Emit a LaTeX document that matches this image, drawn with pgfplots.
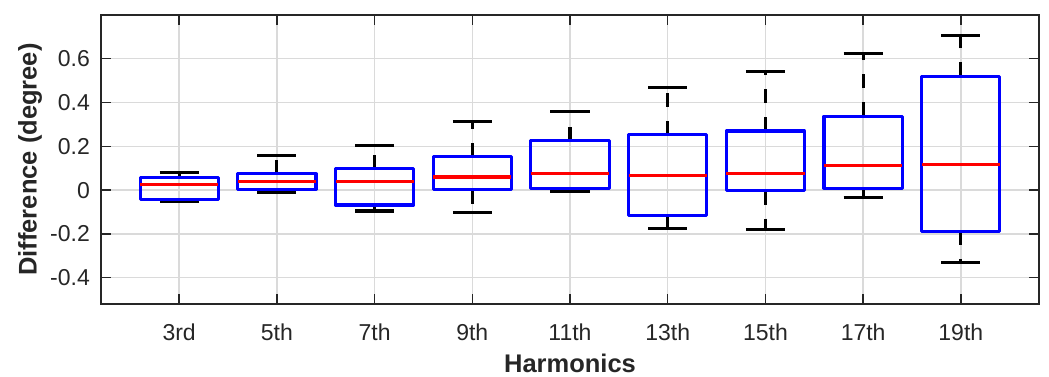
\documentclass[border=0pt]{standalone}
\usepackage{pgfplots}
\pgfplotsset{compat=1.18}
\usepackage{fontspec}
\setmainfont{Liberation Sans}
\definecolor{axgray}{RGB}{38,38,38}
\definecolor{gridgray}{RGB}{218,218,218}
% #1 position, #2 lower whisker, #3 lower quartile, #4 median, #5 upper quartile, #6 upper whisker
\newcommand{\harm}[6]{%
  \pgfmathsetmacro{\xl}{#1-0.4}\pgfmathsetmacro{\xr}{#1+0.4}%
  \pgfmathsetmacro{\cl}{#1-0.2}\pgfmathsetmacro{\cr}{#1+0.2}%
  \addplot[whisk, dash pattern=on 14pt off 14pt] coordinates {(#1,#5) (#1,#6)};
  \addplot[whisk, dash pattern=on 14pt off 14pt] coordinates {(#1,#3) (#1,#2)};
  \addplot[whisk] coordinates {(\cl,#6) (\cr,#6)};
  \addplot[whisk] coordinates {(\cl,#2) (\cr,#2)};
  \addplot[boxst] coordinates {(\xl,#3) (\xr,#3) (\xr,#5) (\xl,#5)} -- cycle;
  \addplot[medst] coordinates {(\xl,#4) (\xr,#4)};
}
\begin{document}
\begin{tikzpicture}
\begin{axis}[
  at={(0pt,0pt)}, anchor=south west,
  scale only axis, width=938pt, height=289pt,
  xmin=0.2, xmax=9.8, ymin=-0.52, ymax=0.8,
  xtick={1,2,3,4,5,6,7,8,9},
  xticklabels={3rd,5th,7th,9th,11th,13th,15th,17th,19th},
  ytick={-0.4,-0.2,0,0.2,0.4,0.6},
  yticklabels={-0.4,-0.2,0,0.2,0.4,0.6},
  grid=major,
  major grid style={gridgray, line width=1.4pt},
  axis line style={axgray, line width=1.8pt},
  every tick/.style={axgray, line width=1.4pt},
  major tick length=10pt, tick align=inside, tick pos=both,
  tick label style={font=\fontsize{23}{27}\selectfont, text=axgray},
  yticklabel style={inner sep=0pt, xshift=-11pt},
  xticklabel style={inner sep=0pt, yshift=-20pt},
  xlabel={Harmonics}, ylabel={Difference (degree)},
  label style={font=\bfseries\fontsize{25.5}{30}\selectfont, text=axgray},
  xlabel style={at={(axis description cs:0.5,0)}, anchor=center, yshift=-59pt},
  ylabel style={at={(axis description cs:0,0.5)}, anchor=center, yshift=71pt},
  whisk/.style={black, line width=3.1pt, mark=none},
  boxst/.style={blue, line width=3.1pt, line join=round, mark=none},
  medst/.style={red, line width=3.1pt, mark=none},
]
\harm{1}{-0.053}{-0.041}{0.025}{0.057}{0.080}
\harm{2}{-0.011}{0.005}{0.039}{0.075}{0.157}
\harm{3}{-0.095}{-0.068}{0.039}{0.098}{0.203}
\harm{4}{-0.102}{0.001}{0.060}{0.153}{0.314}
\harm{5}{-0.008}{0.006}{0.075}{0.225}{0.359}
\harm{6}{-0.174}{-0.115}{0.065}{0.254}{0.468}
\harm{7}{-0.180}{-0.002}{0.077}{0.270}{0.544}
\harm{8}{-0.032}{0.009}{0.114}{0.338}{0.625}
\harm{9}{-0.330}{-0.188}{0.116}{0.520}{0.706}
\end{axis}
\pgfresetboundingbox
\useasboundingbox (-101pt,-72pt) rectangle (948pt,304pt);
\end{tikzpicture}
\end{document}
